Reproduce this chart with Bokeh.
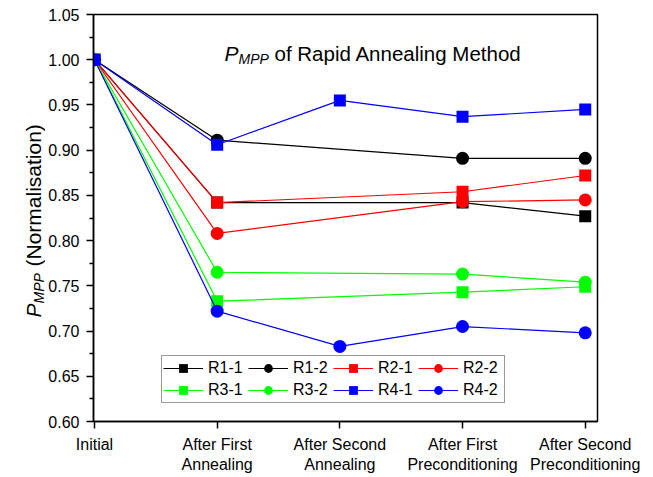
import math
from bokeh.plotting import figure
from bokeh.layouts import row
from bokeh.models import Range1d, FixedTicker, NumeralTickFormatter, Label
from bokeh.embed import file_html
from bokeh.resources import INLINE

# ---- data ----
stages = ["Initial", "After First\nAnnealing", "After Second\nAnnealing",
          "After First\nPreconditioning", "After Second\nPreconditioning"]
r1_1 = [1.000, 0.842, None, 0.842, 0.827]
r1_2 = [1.000, 0.911, None, 0.891, 0.891]
r2_1 = [1.000, 0.842, None, 0.854, 0.872]
r2_2 = [1.000, 0.808, None, 0.843, 0.845]
r3_1 = [1.000, 0.733, None, 0.743, 0.749]
r3_2 = [1.000, 0.765, None, 0.763, 0.754]
r4_1 = [1.000, 0.906, 0.955, 0.937, 0.945]
r4_2 = [1.000, 0.722, 0.683, 0.705, 0.698]
y_ticks = [0.60, 0.65, 0.70, 0.75, 0.80, 0.85, 0.90, 0.95, 1.00, 1.05]

series = [
    ("R1-1", r1_1, "#000000", "square"),
    ("R1-2", r1_2, "#000000", "circle"),
    ("R2-1", r2_1, "#FF0000", "square"),
    ("R2-2", r2_2, "#FF0000", "circle"),
    ("R3-1", r3_1, "#00FF00", "square"),
    ("R3-2", r3_2, "#00FF00", "circle"),
    ("R4-1", r4_1, "#0000FF", "square"),
    ("R4-2", r4_2, "#0000FF", "circle"),
]

FONT = "Liberation Sans"
LEFT_W = 45
H = 477

p = figure(width=653 - LEFT_W, height=H, output_backend="svg", toolbar_location=None,
           x_range=Range1d(-0.008, 4.1), y_range=Range1d(0.60, 1.05),
           min_border_left=92 - LEFT_W, min_border_right=56, min_border_top=14, min_border_bottom=56)
p.background_fill_color = "white"
p.border_fill_color = "white"
p.xgrid.visible = False
p.ygrid.visible = False
p.outline_line_color = "#000000"
p.outline_line_width = 1.5

for name, vals, color, marker in series:
    xs = [i for i, v in enumerate(vals) if v is not None]
    ys = [v for v in vals if v is not None]
    p.line(xs, ys, line_color=color, line_width=1.2, legend_label=name)
    sz = 12 if marker == "square" else 13
    p.scatter(xs, ys, marker=marker, size=sz, fill_color=color, line_color=color,
              line_width=0, legend_label=name)

# x axis
p.xaxis.ticker = FixedTicker(ticks=list(range(len(stages))), minor_ticks=[])
p.xaxis.major_label_overrides = {i: s for i, s in enumerate(stages)}
# y axis
p.yaxis.ticker = FixedTicker(ticks=y_ticks,
                             minor_ticks=[t + 0.025 for t in y_ticks[:-1]])
p.yaxis.formatter = NumeralTickFormatter(format="0.00")

for ax in (p.xaxis[0], p.yaxis[0]):
    ax.axis_line_width = 1.5
    ax.axis_line_color = "#000000"
    ax.major_tick_line_color = "#000000"
    ax.major_tick_line_width = 1.5
    ax.major_tick_out = 7
    ax.major_tick_in = 0
    ax.minor_tick_out = 4
    ax.minor_tick_in = 0
    ax.minor_tick_line_width = 1.5
    ax.major_label_text_font = FONT
    ax.major_label_text_font_size = "16px"
    ax.major_label_text_color = "#000000"
    ax.major_label_standoff = 7
    ax.axis_label = None

# legend
lg = p.legend[0]
lg.location = (68, 18)
lg.orientation = "horizontal"
lg.nrows = 2
lg.label_text_font = FONT
lg.label_text_font_size = "16px"
lg.label_text_color = "#000000"
lg.glyph_width = 40
lg.glyph_height = 22
lg.label_height = 20
lg.label_width = 40
lg.label_standoff = 5
lg.spacing = 0
lg.padding = 1
lg.margin = 0
lg.border_line_color = "#333333"
lg.border_line_width = 1
lg.background_fill_alpha = 1.0

# title (inside the frame), made of pieces for the subscript
p.add_layout(Label(x=131, y=368, x_units="screen", y_units="screen", text="P",
                   text_font=FONT, text_font_style="italic", text_font_size="21px",
                   text_color="#000000", text_baseline="alphabetic"))
p.add_layout(Label(x=145, y=363, x_units="screen", y_units="screen", text="MPP",
                   text_font=FONT, text_font_style="italic", text_font_size="14px",
                   text_color="#000000", text_baseline="alphabetic"))
p.add_layout(Label(x=181, y=368, x_units="screen", y_units="screen", text="of Rapid Annealing Method",
                   text_font=FONT, text_font_size="20.5px", text_color="#000000",
                   text_baseline="alphabetic"))

# y axis label: a narrow strip figure on the left holding rotated text pieces
lab = figure(frame_width=LEFT_W, frame_height=H, output_backend="svg", toolbar_location=None,
             title=None, x_range=Range1d(0, LEFT_W), y_range=Range1d(0, H),
             x_axis_location=None, y_axis_location=None,
             min_border=0)
lab.outline_line_color = None
lab.xgrid.visible = False
lab.ygrid.visible = False
lab.border_fill_color = "white"
ang = math.pi / 2
lab.add_layout(Label(x=33, y=H - 303, text="P", angle=ang,
                     text_font=FONT, text_font_style="italic", text_font_size="21px",
                     text_color="#000000", text_baseline="alphabetic"))
lab.add_layout(Label(x=38, y=H - 289, text="MPP", angle=ang,
                     text_font=FONT, text_font_style="italic", text_font_size="14px",
                     text_color="#000000", text_baseline="alphabetic"))
lab.add_layout(Label(x=33, y=H - 252, text="(Normalisation)", angle=ang,
                     text_font=FONT, text_font_size="21px",
                     text_color="#000000", text_baseline="alphabetic"))

layout = row(lab, p, spacing=0)
open("out.html", "w").write(file_html(layout, INLINE))
